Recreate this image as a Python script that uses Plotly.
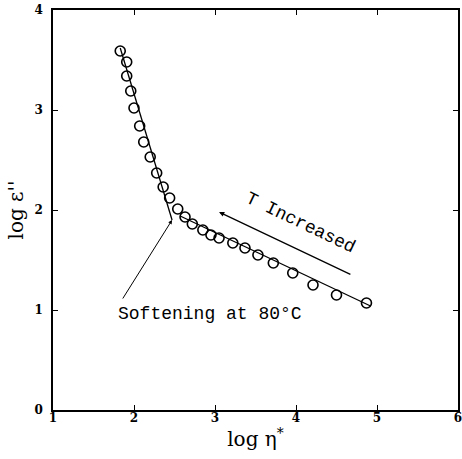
import plotly.graph_objects as go

log_eta = [1.83, 1.91, 1.91, 1.96, 2.00, 2.07, 2.12, 2.20, 2.28, 2.36, 2.44, 2.54,
           2.63, 2.72, 2.85, 2.95, 3.05, 3.22, 3.37, 3.53, 3.72, 3.96, 4.21, 4.50, 4.87]
log_eps = [3.59, 3.48, 3.34, 3.19, 3.02, 2.84, 2.68, 2.53, 2.37, 2.23, 2.12, 2.01,
           1.93, 1.86, 1.80, 1.75, 1.72, 1.67, 1.62, 1.55, 1.47, 1.37, 1.25, 1.15, 1.07]

fit1_x = [1.83, 2.47]
fit1_y = [3.62, 1.90]
fit2_x = [2.57, 4.92]
fit2_y = [1.94, 1.04]

x_ticks = [1, 2, 3, 4, 5, 6]
y_ticks = [0, 1, 2, 3, 4]

fig = go.Figure()
fig.add_trace(go.Scatter(x=fit1_x, y=fit1_y, mode="lines",
                         line=dict(color="black", width=1.3), showlegend=False))
fig.add_trace(go.Scatter(x=fit2_x, y=fit2_y, mode="lines",
                         line=dict(color="black", width=1.3), showlegend=False))
fig.add_trace(go.Scatter(x=log_eta, y=log_eps, mode="markers",
                         marker=dict(symbol="circle-open", size=10, color="black",
                                     line=dict(width=1.6, color="black")),
                         showlegend=False))

mono = "Liberation Mono"
fig.add_annotation(x=2.47, y=1.90, ax=1.85, ay=1.10, xref="x", yref="y", axref="x", ayref="y",
                   showarrow=True, arrowhead=2, arrowsize=0.8, arrowwidth=1, arrowcolor="black", text="")
fig.add_annotation(x=3.05, y=1.98, ax=4.69, ay=1.35, xref="x", yref="y", axref="x", ayref="y",
                   showarrow=True, arrowhead=2, arrowsize=0.8, arrowwidth=1.3, arrowcolor="black", text="")
fig.add_annotation(x=2.94, y=0.96, xref="x", yref="y", text="Softening at 80°C", showarrow=False,
                   font=dict(family=mono, size=18, color="black"))
fig.add_annotation(x=4.06, y=1.87, xref="x", yref="y", text="T Increased", showarrow=False,
                   textangle=25.6, font=dict(family=mono, size=18, color="black"))

axis_common = dict(showline=True, linecolor="black", linewidth=1.5, mirror="ticks",
                   ticks="inside", ticklen=5, tickwidth=1, tickcolor="black",
                   showgrid=False, zeroline=False, automargin=False, ticklabeloverflow="allow",
                   tickfont=dict(family="DejaVu Serif", size=12, color="black", weight="bold"))

fig.update_layout(
    width=462, height=459,
    margin=dict(l=53, r=4, t=10, b=49),
    paper_bgcolor="white", plot_bgcolor="white",
    xaxis=dict(range=[1, 6], tickvals=x_ticks, ticktext=[str(v) for v in x_ticks],
               ticklabelstandoff=-4,
               title=dict(text="log η<sup>*</sup>", standoff=8,
                          font=dict(family="DejaVu Serif", size=20, color="black")),
               **axis_common),
    yaxis=dict(range=[0, 4], tickvals=y_ticks, ticktext=[str(v) for v in y_ticks],
               ticklabelstandoff=6,
               title=dict(text="log ε''", standoff=5,
                          font=dict(family="DejaVu Serif", size=20, color="black")),
               **axis_common),
)

fig.write_html("out.html", config={"displayModeBar": False},
               post_script="document.body.style.margin='0';document.body.style.overflow='hidden';")
